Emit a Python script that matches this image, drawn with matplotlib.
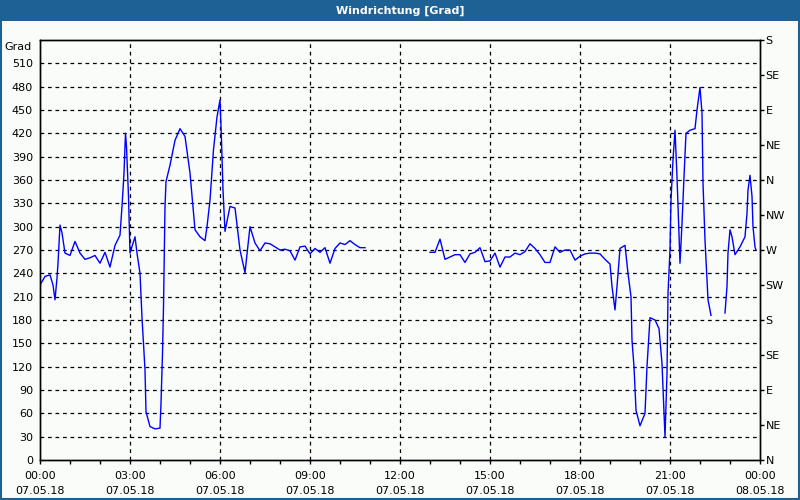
import numpy as np
import matplotlib
matplotlib.use("Agg")
import matplotlib.pyplot as plt
from matplotlib.patches import Rectangle
from matplotlib.ticker import FixedLocator

# minutes since 07.05.18 00:00, wind direction in degrees (nan = no data)
minutes = [0, 10, 20, 26, 30, 34, 36, 40, 44, 50, 60, 70, 80, 90, 100, 110, 120,
           130, 140, 150, 160, 164, 168, 171, 173, 177, 180, 190, 194, 200, 204,
           210, 212, 220, 230, 240, 242, 245, 247, 250, 252, 260, 270, 280, 290,
           300, 310, 320, 330, 334, 340, 347, 354, 360, 363, 366, 370, 380, 390,
           400, 410, 420, 430, 440, 450, 460, 470, 480, 490, 500, 510, 520, 530,
           540, 550, 560, 570, 580, 590, 600, 610, 620, 630, 640, 650,
           700,
           780, 790, 800, 810, 820, 830, 840, 850, 860, 870, 880, 890, 900, 910,
           920, 930, 940, 950, 960, 970, 980, 990, 1000, 1010, 1020, 1030, 1040,
           1050, 1060, 1070, 1080, 1090, 1100, 1110, 1120, 1130, 1140, 1144,
           1150, 1154, 1160, 1170, 1176, 1182, 1184, 1188, 1192, 1200, 1210,
           1214, 1220, 1230, 1238, 1244, 1248, 1250, 1254, 1256, 1260, 1262,
           1266, 1270, 1274, 1280, 1284, 1288, 1292, 1300, 1310, 1314, 1320,
           1324, 1326, 1330, 1334, 1336, 1342,
           1356,
           1370, 1374, 1376, 1380, 1384, 1390, 1400, 1410, 1414, 1416, 1420,
           1424, 1426, 1430, 1432]
grad = [225, 236, 238, 225, 206, 234, 253, 302, 292, 266, 263, 281, 266, 258,
        260, 263, 253, 267, 248, 276, 289, 326, 369, 420, 403, 339, 266, 287,
        266, 240, 183, 116, 62, 43, 40, 41, 73, 137, 197, 326, 358, 379, 411,
        426, 416, 369, 296, 287, 282, 300, 334, 399, 441, 463, 411, 347, 294,
        326, 324, 270, 241, 300, 279, 269, 279, 278, 274, 270, 271, 269, 257,
        274, 275, 265, 272, 267, 273, 253, 272, 279, 277, 282, 277, 273, 273,
        np.nan,
        267, 267, 284, 258, 261, 264, 264, 254, 265, 267, 273, 255, 256, 266,
        248, 261, 261, 266, 264, 268, 278, 272, 264, 254, 254, 274, 267, 270,
        270, 257, 262, 265, 266, 266, 265, 258, 252, 223, 193, 223, 272, 276,
        240, 210, 154, 120, 64, 44, 60, 120, 183, 180, 169, 124, 60, 30, 111,
        214, 270, 334, 386, 424, 364, 253, 304, 364, 420, 424, 426, 450, 479,
        446, 356, 283, 231, 206, 186,
        np.nan,
        189, 223, 266, 296, 287, 264, 274, 287, 317, 347, 366, 339, 300, 274,
        270]

x_labels = ["00:00\n07.05.18", "03:00\n07.05.18", "06:00\n07.05.18",
            "09:00\n07.05.18", "12:00\n07.05.18", "15:00\n07.05.18",
            "18:00\n07.05.18", "21:00\n07.05.18", "00:00\n08.05.18"]
compass = ["N", "NE", "E", "SE", "S", "SW", "W", "NW",
           "N", "NE", "E", "SE", "S"]

blue = "#1e6295"
bg = "#fafcfa"

fig = plt.figure(figsize=(8, 5), dpi=100, facecolor=bg)
fig.patches.append(Rectangle((0, 0.958), 1, 0.042, transform=fig.transFigure,
                             facecolor=blue, edgecolor="none"))
fig.patches.append(Rectangle((0.0015, 0.002), 0.997, 0.996, transform=fig.transFigure,
                             facecolor="none", edgecolor=blue, linewidth=1.5))
fig.text(0.5, 0.979, "Windrichtung [Grad]", color="white", fontsize=8,
         fontweight="bold", ha="center", va="center")

ax = fig.add_axes([0.05, 0.08, 0.9, 0.84])
ax.set_facecolor(bg)
hours = np.array(minutes) / 60.0
ax.plot(hours, grad, color="#0000ff", linewidth=1)

ax.set_xlim(0, 24)
ax.set_ylim(0, 540)

ax.xaxis.set_major_locator(FixedLocator(range(0, 25, 3)))
ax.xaxis.set_minor_locator(FixedLocator(range(0, 25, 1)))
ax.set_xticklabels(x_labels, fontsize=8, linespacing=1.6)
ax.tick_params(axis="x", which="both", direction="out", length=3, width=1, pad=5)

ax.yaxis.set_major_locator(FixedLocator(range(0, 511, 30)))
ax.tick_params(axis="y", length=0, labelsize=8, pad=5)

for v in range(30, 511, 30):
    ax.axhline(v, color="black", linestyle=(0, (3, 3)), linewidth=0.9, zorder=0)
for h in range(3, 22, 3):
    ax.axvline(h, color="black", linestyle=(0, (3, 3)), linewidth=0.9, zorder=0)

ax.text(-0.012, 531, "Grad", transform=ax.get_yaxis_transform(), fontsize=8,
        ha="right", va="center")

ax2 = ax.twinx()
ax2.set_ylim(0, 540)
ax2.yaxis.set_major_locator(FixedLocator(range(0, 541, 45)))
ax2.set_yticklabels(compass, fontsize=8)
ax2.tick_params(axis="y", direction="out", length=3, width=1, pad=1)

for a in (ax, ax2):
    for s in a.spines.values():
        s.set_linewidth(1)

fig.savefig("out.png", dpi=100, facecolor=bg)
